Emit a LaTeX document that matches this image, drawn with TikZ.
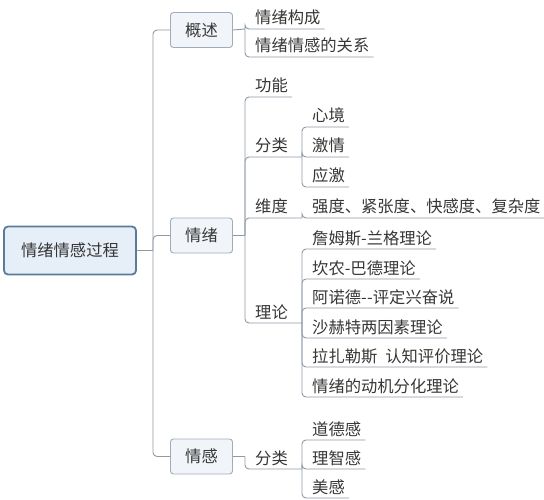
\documentclass[tikz,border=0pt]{standalone}
\usepackage{fontspec}
\setmainfont{Noto Sans CJK SC}
\definecolor{linec}{HTML}{8E9AA6}
\definecolor{textc}{HTML}{363636}
\definecolor{rootb}{HTML}{5A7B99}
\definecolor{rootf}{HTML}{E6EEF7}
\definecolor{topb}{HTML}{A0ADB9}
\definecolor{topf}{HTML}{F1F5F9}
\tikzset{
  conn/.style={draw=linec, line width=0.9pt, rounded corners=4pt},
  txt/.style={font=\fontsize{16.3}{20}\selectfont, text=textc, inner sep=0pt},
  rootbox/.style={txt, draw=rootb, fill=rootf, line width=1.8pt, rounded corners=4pt, minimum width=132pt, minimum height=48pt},
  topicbox/.style={txt, draw=topb, fill=topf, line width=0.9pt, rounded corners=3pt, minimum width=62pt, minimum height=35pt}
}
% leaf: name, bracket x, underline y, text, from coordinate
\newcommand\lf[5]{%
  \node[txt, anchor=base west] (#1) at (#2+10,#3-5) {#4};
  \draw[conn] (#5) |- (#1.east |- 0,#3) -- ++(3,0);
}
% parent leaf: name, bracket x, underline y, text, from coordinate, child bracket x
\newcommand\plf[6]{%
  \node[txt, anchor=base west] (#1) at (#2+10,#3-5) {#4};
  \coordinate (#1j) at (#6,#3);
  \draw[conn] (#5) |- (#1j);
}
\begin{document}
\begin{tikzpicture}[x=1pt,y=-1pt]
\useasboundingbox (0,0) rectangle (544,500);

% root and main topics
\node[rootbox] (root) at (70,250.5) {情绪情感过程};
\node[topicbox] (gs) at (201.5,30) {概述};
\node[topicbox] (qx) at (201.5,235.5) {情绪};
\node[topicbox] (qg) at (201.5,456.5) {情感};

\coordinate (r1) at (153,250.5);
\draw[conn] (root.east) -- (r1);
\draw[conn] (r1) |- (gs.west);
\draw[conn] (r1) |- (qx.west);
\draw[conn] (r1) |- (qg.west);

% 概述
\coordinate (b1) at (245,29);
\draw[conn] (gs.east) -- (b1);
\lf{a1}{245}{29}{情绪构成}{b1}
\lf{a2}{245}{57}{情绪情感的关系}{b1}

% 情绪
\coordinate (b2) at (245,235.5);
\draw[conn] (qx.east) -- (b2);
\lf{c1}{245}{97}{功能}{b2}
\plf{c2}{245}{157}{分类}{b2}{302}
\plf{c3}{245}{218}{维度}{b2}{302}
\plf{c4}{245}{323}{理论}{b2}{302}

\lf{d1}{302}{127}{心境}{c2j}
\lf{d2}{302}{157}{激情}{c2j}
\lf{d3}{302}{187}{应激}{c2j}

\lf{e1}{302}{218}{强度、紧张度、快感度、复杂度}{c3j}

\lf{f1}{302}{249}{詹姆斯-兰格理论}{c4j}
\lf{f2}{302}{279}{坎农-巴德理论}{c4j}
\lf{f3}{302}{308}{阿诺德-\kern0.5pt-评定兴奋说}{c4j}
\lf{f4}{302}{338}{沙赫特两因素理论}{c4j}
\lf{f5}{302}{367}{拉扎勒斯\hspace{8pt}认知评价理论}{c4j}
\lf{f6}{302}{397}{情绪的动机分化理论}{c4j}

% 情感
\coordinate (b6) at (245,456.5);
\draw[conn] (qg.east) -- (b6);
\plf{g1}{245}{469}{分类}{b6}{302}
\lf{h1}{302}{440}{道德感}{g1j}
\lf{h2}{302}{469}{理智感}{g1j}
\lf{h3}{302}{498}{美感}{g1j}
\end{tikzpicture}
\end{document}
